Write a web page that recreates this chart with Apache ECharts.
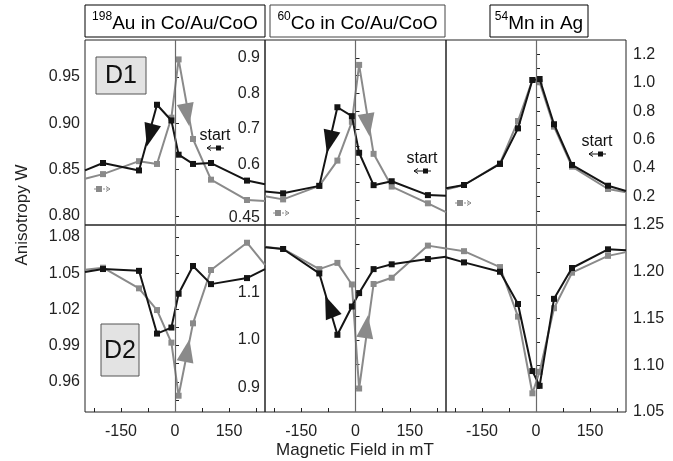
<!DOCTYPE html>
<html><head><meta charset="utf-8">
<script src="https://cdn.jsdelivr.net/npm/echarts@6/dist/echarts.min.js"></script>
<style>html,body{margin:0;padding:0;background:#fff}#c{width:673px;height:461px}</style>
</head><body><div id="c"></div>
<script>
// ---------------- data ----------------
const fieldMT = [-250, -200, -100, -50, -10, 10, 50, 100, 200, 250];

const auD1Black = [0.849, 0.857, 0.849, 0.920, 0.903, 0.866, 0.856, 0.857, 0.838, 0.834];
const auD1Grey  = [0.840, 0.845, 0.859, 0.856, 0.906, 0.969, 0.883, 0.839, 0.817, 0.816];
const coD1Black = [0.524, 0.519, 0.540, 0.761, 0.736, 0.633, 0.542, 0.553, 0.514, 0.512];
const coD1Grey  = [0.511, 0.502, 0.540, 0.611, 0.720, 0.880, 0.630, 0.538, 0.491, 0.466];
const mnD1Black = [0.258, 0.281, 0.429, 0.679, 1.019, 1.026, 0.708, 0.422, 0.276, 0.239];
const mnD1Grey  = [0.250, 0.281, 0.433, 0.731, 1.019, 1.003, 0.691, 0.410, 0.253, 0.230];

const auD2Black = [1.051, 1.0535, 1.052, 1.000, 1.005, 1.033, 1.056, 1.041, 1.046, 1.0535];
const auD2Grey  = [1.053, 1.0546, 1.0375, 1.0195, 0.9925, 0.9485, 1.0085, 1.0527, 1.0753, 1.057];
const coD2Black = [1.1935, 1.190, 1.139, 1.011, 1.070, 1.098, 1.148, 1.158, 1.169, 1.174];
const coD2Grey  = [1.1945, 1.190, 1.148, 1.161, 1.116, 0.899, 1.117, 1.130, 1.197, 1.191];
const mnD2Black = [1.2155, 1.210, 1.200, 1.1655, 1.0938, 1.078, 1.171, 1.204, 1.224, 1.223];
const mnD2Grey  = [1.225, 1.222, 1.205, 1.152, 1.070, 1.093, 1.161, 1.199, 1.217, 1.221];

// tick labels
const xTickLabels = ['-150', '0', '150'];
const xTickMarks = [-225, -150, -75, 0, 75, 150, 225];
const auD1Labels = ['0.80', '0.85', '0.90', '0.95'];
const coD1Labels = ['0.45', '0.6', '0.7', '0.8', '0.9'];
const mnD1Labels = ['0.2', '0.4', '0.6', '0.8', '1.0', '1.2'];
const auD2Labels = ['0.96', '0.99', '1.02', '1.05', '1.08'];
const coD2Labels = ['0.9', '1.0', '1.1'];
const mnD2Labels = ['1.05', '1.10', '1.15', '1.20', '1.25'];

const auD1Ticks = [0.80, 0.85, 0.90, 0.95];
const coD1Ticks = [0.45, 0.50, 0.55, 0.60, 0.65, 0.70, 0.75, 0.80, 0.85, 0.90];
const mnD1Ticks = [0.1, 0.2, 0.3, 0.4, 0.5, 0.6, 0.7, 0.8, 0.9, 1.0, 1.1, 1.2];
const auD2Ticks = [0.945, 0.96, 0.975, 0.99, 1.005, 1.02, 1.035, 1.05, 1.065, 1.08];
const coD2Ticks = [0.9, 0.95, 1.0, 1.05, 1.1, 1.15, 1.2];
const mnD2Ticks = [1.075, 1.10, 1.125, 1.15, 1.175, 1.20, 1.225];

// ---------------- chart ----------------
const FONT = '"Liberation Sans", Arial, Helvetica, sans-serif';
const BLACK = '#141414', GREY = '#8a8a8a', TXT = '#222';

const grids = [
  {left: 85,  top: 40,  width: 180, height: 185},
  {left: 265, top: 40,  width: 181, height: 185},
  {left: 446, top: 40,  width: 180, height: 185},
  {left: 85,  top: 225, width: 180, height: 187},
  {left: 265, top: 225, width: 181, height: 187},
  {left: 446, top: 225, width: 180, height: 187}
].map(g => Object.assign(g, {show: true, borderColor: '#222', borderWidth: 1, containLabel: false}));

const panels = [
  {black: auD1Black, grey: auD1Grey, min: 0.79, max: 0.99, labels: auD1Labels, ticks: auD1Ticks, pos: 'left', inside: true,
   arrows: [{c: [-70, 0.887], col: BLACK, rot: 165}, {c: [34, 0.909], col: GREY, rot: 190}]},
  {black: coD1Black, grey: coD1Grey, min: 0.43, max: 0.95, labels: coD1Labels, ticks: coD1Ticks, pos: 'left', inside: true,
   arrows: [{c: [-72, 0.664], col: BLACK, rot: 167}, {c: [34, 0.711], col: GREY, rot: 189}]},
  {black: mnD1Black, grey: mnD1Grey, min: 0, max: 1.3, labels: mnD1Labels, ticks: mnD1Ticks, pos: 'right', inside: false, arrows: []},
  {black: auD2Black, grey: auD2Grey, min: 0.935, max: 1.09, labels: auD2Labels, ticks: auD2Ticks, pos: 'left', inside: true,
   arrows: [{c: [34, 0.986], col: GREY, rot: -11}]},
  {black: coD2Black, grey: coD2Grey, min: 0.85, max: 1.24, labels: coD2Labels, ticks: coD2Ticks, pos: 'left', inside: true,
   arrows: [{c: [-72, 1.070], col: BLACK, rot: 22}, {c: [30, 1.028], col: GREY, rot: -8}]},
  {black: mnD2Black, grey: mnD2Grey, min: 1.05, max: 1.25, labels: mnD2Labels, ticks: mnD2Ticks, pos: 'right', inside: false, arrows: []}
];

const xAxes = [], yAxes = [], series = [];
panels.forEach((p, i) => {
  const bottomRow = i >= 3;
  xAxes.push({
    type: 'value', gridIndex: i, min: -250, max: 250,
    splitLine: {show: false}, axisLine: {show: false},
    axisTick: {show: bottomRow, inside: true, length: 4, customValues: xTickMarks, lineStyle: {color: '#222'}},
    axisLabel: {show: bottomRow, customValues: xTickLabels.map(Number), margin: 12,
      fontSize: 16, fontFamily: FONT, color: TXT, formatter: v => xTickLabels.find(s => Number(s) === v) || ''}
  });
  yAxes.push({
    type: 'value', gridIndex: i, min: p.min, max: p.max, position: p.pos,
    splitLine: {show: false}, axisLine: {show: false},
    axisTick: {show: true, inside: p.inside, length: 4, customValues: p.ticks, lineStyle: {color: '#222'}},
    axisLabel: {customValues: p.labels.map(Number), margin: p.pos === 'right' ? 7 : 5,
      fontSize: 16, fontFamily: FONT, color: TXT,
      formatter: v => p.labels.find(s => Math.abs(Number(s) - v) < 1e-9) || ''}
  });
  const sym = v => (Math.abs(v[0]) >= 250 ? 0 : 6);
  series.push({
    type: 'line', xAxisIndex: i, yAxisIndex: i, data: fieldMT.map((x, k) => [x, p.grey[k]]),
    symbol: 'rect', symbolSize: sym, itemStyle: {color: GREY}, lineStyle: {color: GREY, width: 2},
    animation: false, silent: true, z: 2,
    markLine: {silent: true, symbol: 'none', label: {show: false},
      lineStyle: {color: '#6a6a6a', width: 1.2, type: 'solid'}, data: [{xAxis: 0}]}
  });
  series.push({
    type: 'line', xAxisIndex: i, yAxisIndex: i, data: fieldMT.map((x, k) => [x, p.black[k]]),
    symbol: 'rect', symbolSize: sym, itemStyle: {color: BLACK}, lineStyle: {color: BLACK, width: 2},
    animation: false, silent: true, z: 3,
    markPoint: {silent: true, animation: false, label: {show: false},
      data: p.arrows.map(a => ({coord: a.c, symbol: 'triangle', symbolSize: [17, 23], symbolRotate: a.rot,
        itemStyle: {color: a.col}}))}
  });
});

function titleBox(x, w, sup, main, stroke) {
  return [
    {type: 'rect', shape: {x: x, y: 5, width: w, height: 32}, style: {fill: '#fff', stroke: stroke, lineWidth: 1}},
    {type: 'text', x: x + w / 2, y: 22, style: {
      text: '{s|' + sup + '}{m|' + main + '}', align: 'center', verticalAlign: 'middle',
      rich: {s: {fontSize: 12, fontFamily: FONT, fill: '#000', verticalAlign: 'top', lineHeight: 22},
             m: {fontSize: 19, fontFamily: FONT, fill: '#000', verticalAlign: 'bottom', lineHeight: 22}}}}
  ];
}
function dBox(x, y, w, h, label) {
  return [
    {type: 'rect', shape: {x: x, y: y, width: w, height: h}, style: {fill: '#e3e3e3', stroke: '#555', lineWidth: 1}, z: 10},
    {type: 'text', x: x + w / 2, y: y + h / 2 + 1, z: 11, style: {text: label, align: 'center', verticalAlign: 'middle',
      fontSize: 25, fontFamily: FONT, fill: '#111'}}
  ];
}
function startMark(cx, cy) {
  return [
    {type: 'text', x: cx, y: cy, z: 10, style: {text: 'start', align: 'center', verticalAlign: 'middle', fontSize: 16, fontFamily: FONT, fill: '#111'}},
    {type: 'polyline', z: 10, shape: {points: [[cx - 8, cy + 12], [cx + 9, cy + 12]]}, style: {stroke: '#111', lineWidth: 1, fill: null}},
    {type: 'polyline', z: 10, shape: {points: [[cx - 4, cy + 9.5], [cx - 8, cy + 12], [cx - 4, cy + 14.5]]}, style: {stroke: '#111', lineWidth: 1, fill: null}},
    {type: 'rect', z: 10, shape: {x: cx + 1, y: cy + 9.5, width: 5, height: 5}, style: {fill: '#111'}}
  ];
}
function backMark(x, y) {
  return [
    {type: 'polyline', z: 10, shape: {points: [[x, y], [x + 16, y]]}, style: {stroke: GREY, lineWidth: 1, fill: null, lineDash: [2, 1]}},
    {type: 'polyline', z: 10, shape: {points: [[x + 12, y - 2.5], [x + 16, y], [x + 12, y + 2.5]]}, style: {stroke: GREY, lineWidth: 1, fill: null}},
    {type: 'rect', z: 10, shape: {x: x + 2, y: y - 3, width: 6, height: 6}, style: {fill: GREY}}
  ];
}

const graphic = [].concat(
  titleBox(85, 180, '198', 'Au in Co/Au/CoO', '#000'),
  titleBox(270, 175, '60', 'Co in Co/Au/CoO', '#444'),
  titleBox(490, 98, '54', 'Mn in Ag', '#000'),
  dBox(96, 57, 50, 37, 'D1'),
  dBox(101, 324, 38, 52, 'D2'),
  startMark(215, 136), startMark(422, 159), startMark(597, 142),
  backMark(94, 189), backMark(273, 213), backMark(455, 203),
  [
    {type: 'text', x: 22, y: 215, rotation: Math.PI / 2, style: {text: 'Anisotropy W', align: 'center', verticalAlign: 'middle',
      fontSize: 17, fontFamily: FONT, fill: TXT}},
    {type: 'text', x: 355, y: 450, style: {text: 'Magnetic Field in mT', align: 'center', verticalAlign: 'middle',
      fontSize: 17, fontFamily: FONT, fill: TXT}}
  ]
);

const chart = echarts.init(document.getElementById('c'));
chart.setOption({
  animation: false,
  backgroundColor: '#fff',
  grid: grids,
  xAxis: xAxes,
  yAxis: yAxes,
  series: series,
  graphic: graphic
});
</script>
</body></html>
